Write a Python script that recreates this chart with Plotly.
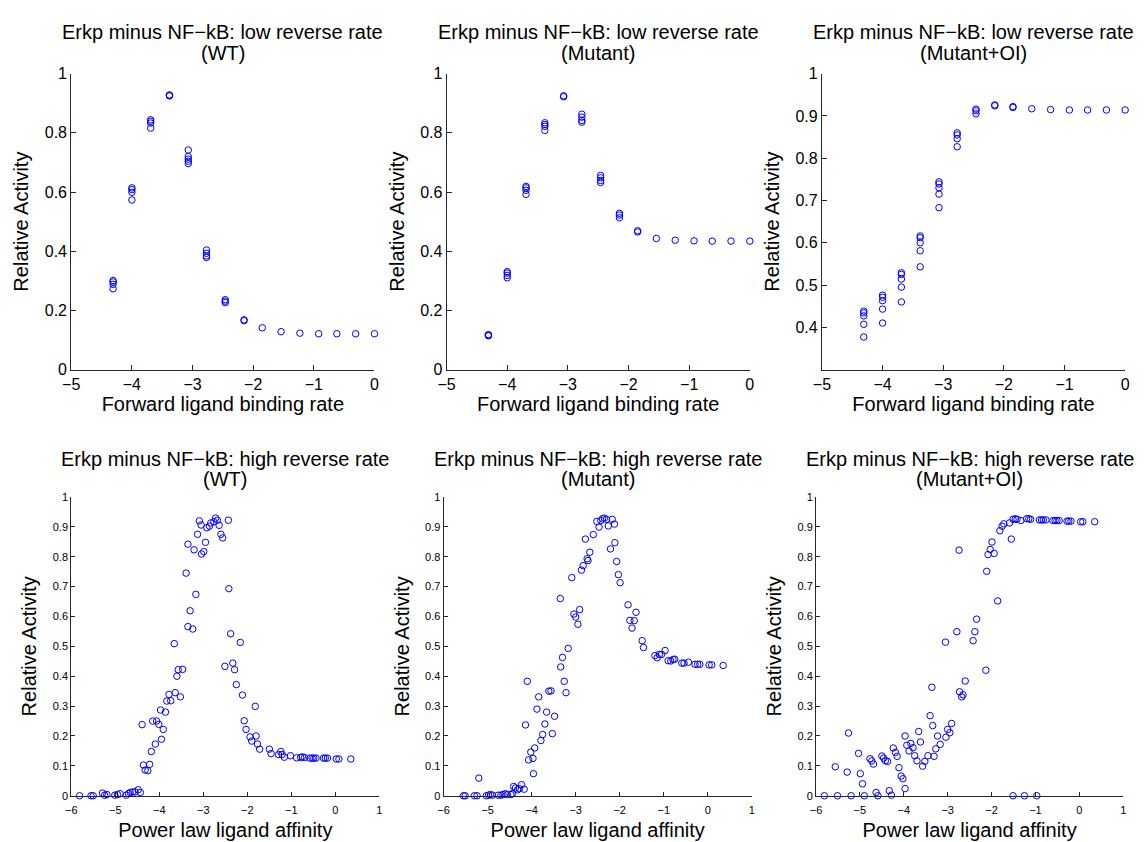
import plotly.graph_objects as go

# ---------------- data: low reverse rate (top row) ----------------
fwd_rate = [-4.31, -4.0, -3.69, -3.38, -3.07, -2.77, -2.46, -2.15,
            -1.85, -1.54, -1.23, -0.92, -0.62, -0.31, 0.0]

wt_low = [
    [0.301, 0.296, 0.288, 0.273],
    [0.614, 0.608, 0.599, 0.573],
    [0.844, 0.839, 0.833, 0.816],
    [0.928, 0.926, 0.925],
    [0.742, 0.720, 0.711, 0.704, 0.696],
    [0.404, 0.393, 0.384, 0.379],
    [0.236, 0.231, 0.226],
    [0.168, 0.165],
    [0.141],
    [0.128],
    [0.123],
    [0.121],
    [0.121],
    [0.121],
    [0.121],
]

mut_low = [
    [0.118, 0.116, 0.114],
    [0.331, 0.326, 0.318, 0.310],
    [0.619, 0.614, 0.606, 0.592],
    [0.834, 0.828, 0.822, 0.808],
    [0.925, 0.922],
    [0.863, 0.853, 0.842, 0.836],
    [0.656, 0.648, 0.639, 0.632],
    [0.528, 0.522, 0.513],
    [0.469, 0.465],
    [0.443],
    [0.437],
    [0.435],
    [0.434],
    [0.434],
    [0.434],
]

oi_low = [
    [0.438, 0.434, 0.427, 0.407, 0.377],
    [0.476, 0.471, 0.463, 0.443, 0.410],
    [0.529, 0.525, 0.514, 0.495, 0.460],
    [0.616, 0.612, 0.600, 0.581, 0.543],
    [0.744, 0.739, 0.730, 0.715, 0.683],
    [0.860, 0.855, 0.846, 0.827],
    [0.916, 0.912, 0.905],
    [0.926, 0.924],
    [0.922, 0.920],
    [0.917],
    [0.915],
    [0.914],
    [0.914],
    [0.914],
    [0.914],
]

# ---------------- data: high reverse rate (bottom row) ----------------
wt_high_x = [-5.81, -5.55, -5.50, -5.29, -5.24, -5.19, -5.01, -4.95, -4.89, -4.75,
             -4.70, -4.66, -4.60, -4.55, -4.48, -4.43, -4.39, -4.36, -4.32, -4.26,
             -4.22, -4.18, -4.15, -4.09, -4.06, -4.01, -3.97, -3.95, -3.91, -3.86,
             -3.83, -3.78, -3.74, -3.66, -3.64, -3.60, -3.57, -3.52, -3.47, -3.39,
             -3.35, -3.35, -3.30, -3.24, -3.21, -3.17, -3.13, -3.09, -3.05, -3.04,
             -2.99, -2.95, -2.92, -2.86, -2.83, -2.76, -2.72, -2.68, -2.64, -2.60,
             -2.56, -2.51, -2.43, -2.42, -2.38, -2.33, -2.29, -2.25, -2.16, -2.11,
             -2.07, -2.03, -1.94, -1.90, -1.82, -1.80, -1.77, -1.72, -1.50, -1.46,
             -1.29, -1.24, -1.21, -1.16, -1.02, -0.88, -0.79, -0.75, -0.70, -0.58,
             -0.53, -0.49, -0.44, -0.27, -0.23, -0.18, 0.02, 0.08, 0.35]
wt_high_y = [0.0, 0.0, 0.0, 0.009, 0.002, 0.004, 0.002, 0.004, 0.007, 0.002,
             0.007, 0.011, 0.013, 0.013, 0.020, 0.011, 0.238, 0.103, 0.086, 0.084,
             0.105, 0.148, 0.250, 0.173, 0.250, 0.239, 0.287, 0.189, 0.222, 0.280,
             0.317, 0.339, 0.318, 0.509, 0.345, 0.400, 0.422, 0.331, 0.423, 0.745,
             0.842, 0.566, 0.619, 0.558, 0.823, 0.674, 0.875, 0.920, 0.906, 0.809,
             0.817, 0.848, 0.897, 0.902, 0.913, 0.917, 0.929, 0.922, 0.905, 0.875,
             0.863, 0.433, 0.922, 0.693, 0.542, 0.444, 0.422, 0.372, 0.513, 0.337,
             0.251, 0.222, 0.197, 0.183, 0.299, 0.200, 0.173, 0.156, 0.156, 0.141,
             0.138, 0.148, 0.138, 0.129, 0.134, 0.127, 0.128, 0.130, 0.128, 0.126,
             0.126, 0.126, 0.126, 0.126, 0.126, 0.126, 0.123, 0.123, 0.123]

mut_high_x = [-5.55, -5.51, -5.30, -5.24, -5.20, -5.03, -4.98, -4.94, -4.89, -4.76,
              -4.70, -4.65, -4.60, -4.55, -4.47, -4.44, -4.41, -4.37, -4.32, -4.28,
              -4.23, -4.17, -4.14, -4.10, -4.07, -4.02, -3.97, -3.96, -3.93, -3.88,
              -3.84, -3.79, -3.75, -3.70, -3.66, -3.61, -3.56, -3.53, -3.48, -3.35,
              -3.34, -3.30, -3.26, -3.22, -3.17, -3.09, -3.04, -3.00, -2.95, -2.91,
              -2.87, -2.83, -2.78, -2.74, -2.72, -2.68, -2.60, -2.52, -2.47, -2.43,
              -2.39, -2.35, -2.30, -2.26, -2.21, -2.17, -2.12, -2.11, -2.07, -2.03,
              -1.99, -1.81, -1.77, -1.72, -1.67, -1.63, -1.49, -1.46, -1.20, -1.15,
              -1.10, -1.05, -0.97, -0.90, -0.84, -0.79, -0.75, -0.59, -0.54, -0.44,
              -0.29, -0.23, -0.18, 0.03, 0.09, 0.35]
mut_high_y = [0.0, 0.0, 0.0, 0.0, 0.059, 0.0, 0.002, 0.004, 0.002, 0.002,
              0.002, 0.004, 0.007, 0.004, 0.004, 0.007, 0.031, 0.026, 0.020, 0.024,
              0.037, 0.022, 0.237, 0.383, 0.120, 0.146, 0.125, 0.074, 0.160, 0.290,
              0.331, 0.185, 0.205, 0.240, 0.280, 0.350, 0.351, 0.208, 0.266, 0.660,
              0.431, 0.463, 0.383, 0.345, 0.493, 0.730, 0.608, 0.598, 0.574, 0.623,
              0.755, 0.770, 0.859, 0.793, 0.787, 0.815, 0.874, 0.918, 0.899, 0.921,
              0.927, 0.929, 0.925, 0.903, 0.826, 0.925, 0.909, 0.847, 0.784, 0.740,
              0.713, 0.639, 0.587, 0.561, 0.586, 0.614, 0.519, 0.496, 0.469, 0.462,
              0.473, 0.473, 0.486, 0.452, 0.451, 0.456, 0.457, 0.444, 0.444, 0.447,
              0.440, 0.440, 0.440, 0.438, 0.438, 0.436]

oi_high_x = [-5.81, -5.56, -5.51, -5.29, -5.26, -5.20, -5.03, -4.99, -4.94, -4.90,
             -4.77, -4.73, -4.69, -4.63, -4.59, -4.50, -4.46, -4.42, -4.37, -4.33,
             -4.28, -4.24, -4.19, -4.15, -4.11, -4.06, -4.02, -3.97, -3.97, -3.93,
             -3.88, -3.84, -3.79, -3.75, -3.70, -3.66, -3.62, -3.57, -3.52, -3.45,
             -3.40, -3.36, -3.34, -3.31, -3.27, -3.23, -3.17, -3.05, -3.04, -3.00,
             -2.95, -2.91, -2.79, -2.74, -2.73, -2.68, -2.65, -2.60, -2.42, -2.38,
             -2.34, -2.13, -2.11, -2.08, -2.03, -1.99, -1.94, -1.86, -1.81, -1.76,
             -1.72, -1.59, -1.55, -1.51, -1.51, -1.46, -1.42, -1.33, -1.25, -1.20,
             -1.15, -1.11, -0.97, -0.91, -0.86, -0.82, -0.76, -0.60, -0.55, -0.51,
             -0.46, -0.28, -0.24, -0.19, 0.03, 0.08, 0.35]
oi_high_y = [0.0, 0.097, 0.0, 0.079, 0.210, 0.0, 0.142, 0.074, 0.040, 0.0,
             0.124, 0.117, 0.106, 0.011, 0.0, 0.133, 0.126, 0.117, 0.115, 0.017,
             0.002, 0.160, 0.145, 0.132, 0.094, 0.066, 0.057, 0.024, 0.200, 0.169,
             0.150, 0.175, 0.161, 0.134, 0.117, 0.215, 0.180, 0.099, 0.115, 0.134,
             0.268, 0.363, 0.235, 0.132, 0.157, 0.200, 0.172, 0.514, 0.196, 0.222,
             0.211, 0.242, 0.549, 0.822, 0.348, 0.331, 0.338, 0.384, 0.519, 0.549,
             0.591, 0.420, 0.751, 0.807, 0.824, 0.849, 0.811, 0.652, 0.887, 0.902,
             0.910, 0.913, 0.859, 0.0, 0.925, 0.927, 0.925, 0.921, 0.0, 0.927,
             0.927, 0.925, 0.0, 0.923, 0.923, 0.923, 0.923, 0.921, 0.921, 0.921,
             0.921, 0.919, 0.919, 0.919, 0.917, 0.917, 0.917]

title_top = "Erkp minus NF\u2212kB: low reverse rate"
title_bot = "Erkp minus NF\u2212kB: high reverse rate"
conditions = ["(WT)", "(Mutant)", "(Mutant+OI)"]

# ---------------- layout geometry (pixels) ----------------
W, H = 1144, 842
top_x = [(63, 370), (443, 750), (823, 1130)]
top_y = (67, 369)
bot_x = [(63, 375), (440, 752), (817, 1128)]
bot_y = (499, 804)

FONT = "Liberation Sans, Arial, Helvetica, sans-serif"
BLUE = "#0000FF"
AXC = "#262626"


def px2x(p):
    return p / W


def px2y(p):
    return 1 - p / H


fig = go.Figure()


def flatten(xs, groups):
    fx, fy = [], []
    for x, g in zip(xs, groups):
        for v in g:
            fx.append(x)
            fy.append(v)
    return fx, fy


marker = dict(symbol="circle-open", size=6.5, color=BLUE, line=dict(width=1, color=BLUE))

top_data = [wt_low, mut_low, oi_low]
bot_data = [(wt_high_x, wt_high_y), (mut_high_x, mut_high_y), (oi_high_x, oi_high_y)]

annotations = []
for i in range(3):
    n = i + 1
    fx, fy = flatten(fwd_rate, top_data[i])
    fig.add_trace(go.Scatter(x=fx, y=fy, mode="markers", marker=marker,
                             xaxis=f"x{n}", yaxis=f"y{n}", cliponaxis=False,
                             showlegend=False))
    m = i + 4
    bx, by = bot_data[i]
    fig.add_trace(go.Scatter(x=bx, y=by, mode="markers", marker=marker,
                             xaxis=f"x{m}", yaxis=f"y{m}", cliponaxis=False,
                             showlegend=False))

layout = dict(
    width=W, height=H,
    margin=dict(l=0, r=0, t=0, b=0),
    paper_bgcolor="white", plot_bgcolor="white",
    font=dict(family=FONT, color="black"),
    showlegend=False,
)

common_axis = dict(showline=True, linecolor=AXC, linewidth=1, mirror=False,
                   showgrid=False, zeroline=False, ticks="inside",
                   tickcolor=AXC, tickwidth=1)

for i in range(3):
    n = i + 1
    sx = "" if n == 1 else str(n)
    x0, x1 = top_x[i]
    layout[f"xaxis{sx}"] = dict(
        common_axis, domain=[px2x(x0), px2x(x1)], anchor=f"y{n}",
        range=[-5, 0], tickvals=[-5, -4, -3, -2, -1, 0], ticklen=5,
        tickfont=dict(size=16),
        title=dict(text="Forward ligand binding rate", font=dict(size=20), standoff=2),
    )
    if i < 2:
        yvals = [0, 0.2, 0.4, 0.6, 0.8, 1.0]
        ytext = ["0", "0.2", "0.4", "0.6", "0.8", "1"]
        yr = [0, 1]
    else:
        yvals = [0.4, 0.5, 0.6, 0.7, 0.8, 0.9, 1.0]
        ytext = ["0.4", "0.5", "0.6", "0.7", "0.8", "0.9", "1"]
        yr = [0.3, 1]
    layout[f"yaxis{sx}"] = dict(
        common_axis, domain=[px2y(top_y[1]), px2y(top_y[0])], anchor=f"x{n}",
        range=yr, tickvals=yvals, ticktext=ytext, ticklen=5,
        tickfont=dict(size=16),
        title=dict(text="Relative Activity", font=dict(size=20), standoff=10),
    )
    cx = px2x((x0 + x1) / 2)
    annotations.append(dict(x=cx, y=px2y(24), xref="paper", yref="paper",
                            text=title_top, showarrow=False, xanchor="center",
                            yanchor="middle", font=dict(size=20)))
    annotations.append(dict(x=cx, y=px2y(46), xref="paper", yref="paper",
                            text=conditions[i], showarrow=False, xanchor="center",
                            yanchor="middle", font=dict(size=20)))

    m = i + 4
    x0, x1 = bot_x[i]
    layout[f"xaxis{m}"] = dict(
        common_axis, domain=[px2x(x0), px2x(x1)], anchor=f"y{m}",
        range=[-6, 1], tickvals=[-6, -5, -4, -3, -2, -1, 0, 1], ticklen=4,
        tickfont=dict(size=11), ticklabelstandoff=4,
        title=dict(text="Power law ligand affinity", font=dict(size=20), standoff=8),
    )
    bvals = [round(0.1 * k, 1) for k in range(11)]
    btext = ["0"] + [f"{v:.1f}" for v in bvals[1:10]] + ["1"]
    layout[f"yaxis{m}"] = dict(
        common_axis, domain=[px2y(bot_y[1]), px2y(bot_y[0])], anchor=f"x{m}",
        range=[0, 1], tickvals=bvals, ticktext=btext, ticklen=4,
        tickfont=dict(size=11),
        title=dict(text="Relative Activity", font=dict(size=20), standoff=10),
    )
    cx = px2x((x0 + x1) / 2)
    annotations.append(dict(x=cx, y=px2y(460), xref="paper", yref="paper",
                            text=title_bot, showarrow=False, xanchor="center",
                            yanchor="middle", font=dict(size=20)))
    annotations.append(dict(x=cx, y=px2y(481), xref="paper", yref="paper",
                            text=conditions[i], showarrow=False, xanchor="center",
                            yanchor="middle", font=dict(size=20)))

layout["annotations"] = annotations
fig.update_layout(**layout)
fig.write_html("out.html")
